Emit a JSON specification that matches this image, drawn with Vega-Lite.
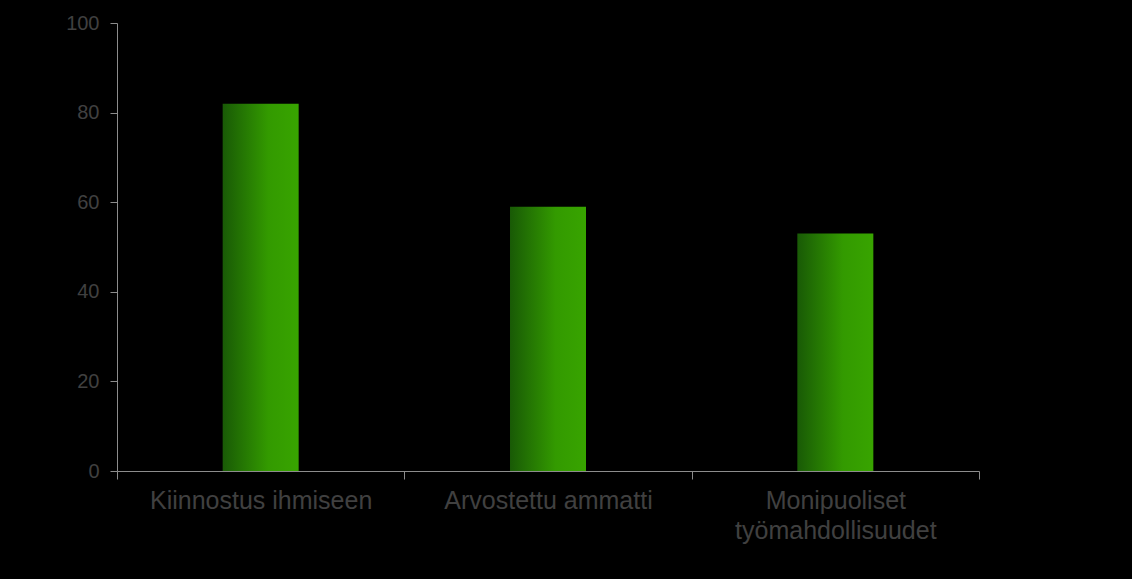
{
  "$schema": "https://vega.github.io/schema/vega-lite/v6.json",
  "width": 862,
  "height": 448,
  "autosize": {"type": "none"},
  "padding": {"left": 117, "top": 23, "right": 153, "bottom": 108},
  "background": "#000000",
  "data": {
    "values": [
      {"syy": "Kiinnostus ihmiseen", "arvo": 82},
      {"syy": "Arvostettu ammatti", "arvo": 59},
      {"syy": "Monipuoliset|työmahdollisuudet", "arvo": 53}
    ]
  },
  "mark": {
    "type": "bar",
    "size": 76,
    "color": {
      "x1": 0, "y1": 0, "x2": 1, "y2": 0,
      "gradient": "linear",
      "stops": [
        {"offset": 0, "color": "#195a06"},
        {"offset": 0.6, "color": "#339a00"},
        {"offset": 1, "color": "#38a400"}
      ]
    }
  },
  "encoding": {
    "x": {
      "field": "syy",
      "type": "nominal",
      "sort": null,
      "scale": {"paddingInner": 0, "paddingOuter": 0},
      "axis": {
        "title": null,
        "labelAngle": 0,
        "labelExpr": "split(datum.label, '|')",
        "labelFont": "Liberation Sans",
        "labelFontSize": 25,
        "labelLimit": 500,
        "labelOverlap": false,
        "labelColor": "#404040",
        "labelLineHeight": 30,
        "labelPadding": 9,
        "tickSize": 8,
        "tickBand": "extent",
        "domainColor": "#8c8c8c",
        "tickColor": "#8c8c8c"
      }
    },
    "y": {
      "field": "arvo",
      "type": "quantitative",
      "scale": {"domain": [0, 100]},
      "axis": {
        "title": null,
        "grid": false,
        "values": [0, 20, 40, 60, 80, 100],
        "labelFont": "Liberation Sans",
        "labelFontSize": 20,
        "labelColor": "#404040",
        "labelPadding": 11,
        "tickSize": 7,
        "domainColor": "#8c8c8c",
        "tickColor": "#8c8c8c"
      }
    }
  },
  "config": {
    "view": {"stroke": "transparent"}
  }
}
